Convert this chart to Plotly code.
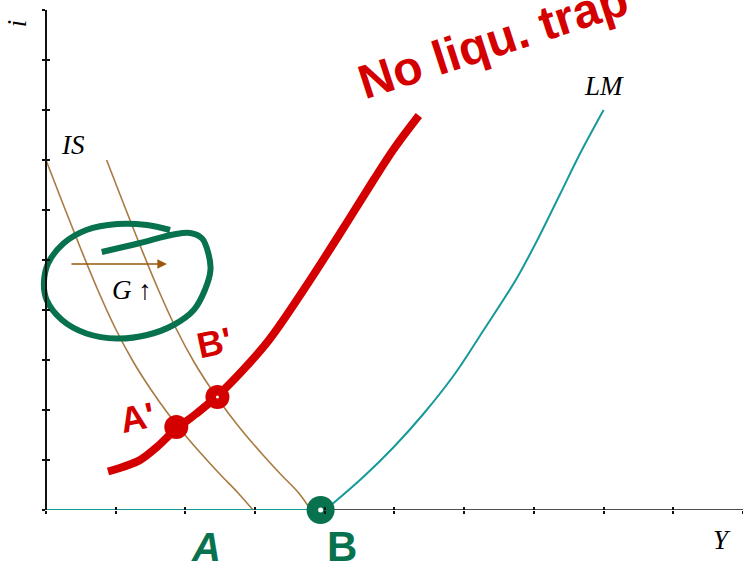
import plotly.graph_objects as go

# IS curves (output Y, interest rate i): before and after the rise in G
is1_y = [0.0, 0.25, 0.5, 0.75, 1.0, 1.25, 1.5, 1.75, 2.0, 2.25, 2.5, 2.75, 2.97]
is1_i = [7.0, 6.1, 5.22, 4.38, 3.62, 2.97, 2.42, 1.93, 1.49, 1.09, 0.71, 0.35, 0.0]
is2_y = [0.87, 1.12, 1.37, 1.62, 1.87, 2.12, 2.37, 2.62, 2.87, 3.12, 3.37, 3.62, 3.8]
is2_i = [7.0, 6.1, 5.22, 4.38, 3.62, 2.97, 2.42, 1.93, 1.49, 1.09, 0.71, 0.35, 0.0]

# LM curve: flat at zero (liquidity trap) up to the kink, then rising
lm_y = [0.0, 4.0, 4.15, 4.56, 4.99, 5.42, 5.87, 6.28, 6.74, 7.05, 7.38, 7.67, 8.0]
lm_i = [0.0, 0.0, 0.17, 0.67, 1.26, 1.93, 2.73, 3.60, 4.60, 5.40, 6.33, 7.15, 8.0]
LM_KINK = 1  # index where the flat part ends

# hand-drawn LM without a liquidity trap
red_y = [0.89, 1.1, 1.35, 1.6, 1.85, 2.15, 2.45, 2.8, 3.2, 3.7, 4.2, 4.7, 5.0, 5.35]
red_i = [0.77, 0.86, 1.0, 1.27, 1.6, 1.92, 2.27, 2.76, 3.4, 4.41, 5.49, 6.6, 7.24, 7.89]

# equilibria on the hand-drawn LM (A', B') and on the flat LM (A, B)
red_pts_y = [1.87, 2.46]
red_pts_i = [1.66, 2.26]
green_a = (3.05, -0.15)
green_b = (3.94, 0.0)

# hand-drawn loop around the G shift
loop_y = [0.80, 1.35, 1.83, 2.07, 2.24, 2.33, 2.36, 2.28, 2.12, 1.83, 1.45, 1.02, 0.58,
          0.23, 0.01, -0.03, 0.03, 0.25, 0.58, 1.02, 1.45, 1.78]
loop_i = [5.16, 5.34, 5.51, 5.54, 5.43, 5.13, 4.80, 4.40, 4.00, 3.70, 3.50, 3.43, 3.53,
          3.80, 4.20, 4.53, 4.93, 5.33, 5.60, 5.72, 5.70, 5.60]

# shift arrow for G
arrow_from, arrow_to, arrow_i = 0.344, 1.736, 4.92

tick_vals = list(range(0, 11))

BROWN = "#A97A42"
TEAL = "#17999A"
RED = "#D40000"
GREEN = "#08724F"
SERIF = "Liberation Serif"
HAND = "Liberation Sans Narrow, Liberation Sans, sans-serif"

fig = go.Figure()

fig.add_trace(go.Scatter(x=is1_y, y=is1_i, mode="lines", line=dict(color=BROWN, width=1.6, shape="spline")))
fig.add_trace(go.Scatter(x=is2_y, y=is2_i, mode="lines", line=dict(color=BROWN, width=1.6, shape="spline")))
fig.add_trace(go.Scatter(x=lm_y[:LM_KINK + 1], y=lm_i[:LM_KINK + 1], mode="lines",
                         line=dict(color=TEAL, width=2)))
fig.add_trace(go.Scatter(x=lm_y[LM_KINK:], y=lm_i[LM_KINK:], mode="lines",
                         line=dict(color=TEAL, width=2, shape="spline", smoothing=0.9)))

fig.add_trace(go.Scatter(x=loop_y, y=loop_i, mode="lines",
                         line=dict(color=GREEN, width=6, shape="spline"), cliponaxis=False))
fig.add_trace(go.Scatter(x=red_y, y=red_i, mode="lines", line=dict(color=RED, width=8, shape="spline")))
fig.add_trace(go.Scatter(x=red_pts_y, y=red_pts_i, mode="markers",
                         marker=dict(color=RED, size=24, line=dict(width=0)), cliponaxis=False))
fig.add_trace(go.Scatter(x=red_pts_y[1:], y=red_pts_i[1:], mode="markers",
                         marker=dict(color="white", size=3, line=dict(width=0)), cliponaxis=False))
fig.add_trace(go.Scatter(x=[green_a[0]], y=[green_a[1]], mode="markers",
                         marker=dict(color=GREEN, size=16, line=dict(width=0)), cliponaxis=False))
fig.add_trace(go.Scatter(x=[green_b[0]], y=[green_b[1]], mode="markers",
                         marker=dict(color=GREEN, size=28, line=dict(width=0)), cliponaxis=False))
fig.add_trace(go.Scatter(x=[green_b[0]], y=[green_b[1]], mode="markers",
                         marker=dict(color="white", size=5, line=dict(width=0)), cliponaxis=False))

# inside half of the crossing tick marks
fig.add_trace(go.Scatter(x=[], y=[], xaxis="x2", yaxis="y2"))


def label(x, y, text, ref="x", size=27, family=SERIF, color="black", angle=0):
    return dict(x=x, y=y, xref=ref if ref == "paper" else "x", yref=ref if ref == "paper" else "y",
                text=text, showarrow=False, xanchor="center", yanchor="middle",
                textangle=angle, font=dict(family=family, size=size, color=color))


annotations = [
    dict(x=arrow_to, y=arrow_i, ax=arrow_from, ay=arrow_i, xref="x", yref="y", axref="x", ayref="y",
         text="", showarrow=True, arrowhead=2, arrowsize=1.2, arrowwidth=1.6, arrowcolor="#9A5A12"),
    label(0.39, 7.3, "<i>IS</i>"),
    label(8.01, 8.48, "<i>LM</i>"),
    label(1.23, 4.4, "<i>G</i> ↑"),
    label(-0.031, 0.974, "<i>i</i>", ref="paper", angle=-90),
    label(0.970, -0.06, "<i>Y</i>", ref="paper"),
    label(0.645, 0.94, "<b>No liqu. trap</b>", ref="paper", size=48, family=HAND, color=RED, angle=-18),
    label(1.31, 1.86, "<b>A'</b>", size=36, family=HAND, color=RED, angle=-12),
    label(2.42, 3.36, "<b>B'</b>", size=36, family=HAND, color=RED, angle=-12),
    label(0.237, -0.074, "<b><i>A</i></b>", ref="paper", size=40, family=HAND, color=GREEN),
    label(0.430, -0.072, "<b>B</b>", ref="paper", size=42, family=HAND, color=GREEN),
]

fig.update_layout(
    width=743, height=573,
    margin=dict(l=39, r=0, t=10, b=63),
    paper_bgcolor="white", plot_bgcolor="white",
    showlegend=False,
    xaxis=dict(range=[-0.1, 10], showgrid=False, zeroline=False, showticklabels=False,
               showline=False, tickvals=tick_vals, ticks="outside", ticklen=3,
               tickcolor="#111", tickwidth=1.5),
    yaxis=dict(range=[0, 10], showgrid=False, zeroline=False, showticklabels=False,
               showline=True, linecolor="#111", linewidth=1.5, anchor="free", position=0.1 / 10.1,
               tickvals=tick_vals, ticks="outside", ticklen=3, tickcolor="#111", tickwidth=1.5),
    xaxis2=dict(range=[-0.1, 10], overlaying="x", anchor="y", showgrid=False, zeroline=False,
                showticklabels=False, showline=False, tickvals=tick_vals, ticks="inside",
                ticklen=3, tickcolor="#111", tickwidth=1.5),
    yaxis2=dict(range=[0, 10], overlaying="y", anchor="free", position=0.1 / 10.1, showgrid=False,
                zeroline=False, showticklabels=False, showline=False, tickvals=tick_vals,
                ticks="inside", ticklen=3, tickcolor="#111", tickwidth=1.5),
    shapes=[dict(type="line", xref="x", yref="y", x0=0, x1=10, y0=0, y1=0, layer="below",
                 line=dict(color="#111", width=1.5))],
    annotations=annotations,
)

fig.write_html("out.html")
